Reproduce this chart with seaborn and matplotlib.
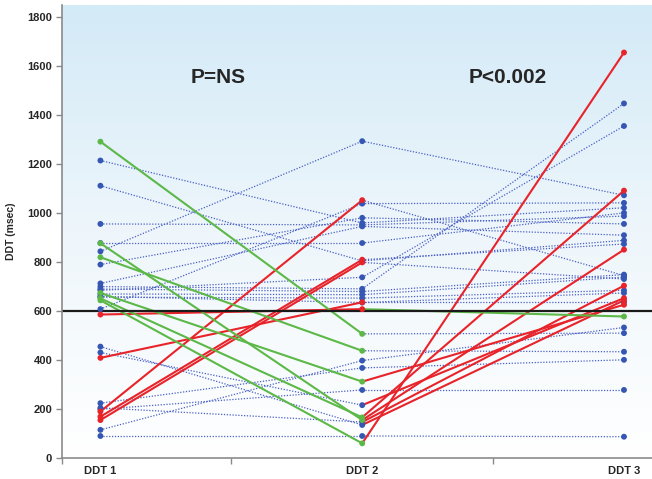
# DDT per subject at three visits, segments coloured by crossing the 600 msec cut-off
import numpy as np
import pandas as pd
import matplotlib
matplotlib.use("Agg")
import matplotlib.pyplot as plt
import seaborn as sns
from matplotlib.colors import LinearSegmentedColormap

# ==========================================
# DATA
# ==========================================
visits = ["DDT 1", "DDT 2", "DDT 3"]
ddt1 = [1292, 1215, 1112, 956, 877, 878, 844, 820, 790, 713, 700, 690, 685, 674, 670, 660,
        657, 652, 644, 608, 586, 455, 431, 409, 224, 205, 199, 190, 169, 155, 115, 90]
ddt2 = [507, 960, 805, 952, 155, 878, 1294, 438, 981, 946, 691, 680, 738, 312, 667, 635,
        653, 166, 60, 1039, 608, 135, 216, 636, 368, 147, 278, 1053, 810, 799, 398, 90]
ddt3 = [510, 1022, 889, 988, 851, 1001, 1073, 434, 956, 910, 1448, 749, 1356, 626, 739, 674,
        685, 1092, 1656, 1042, 578, 644, 653, 636, 401, 704, 278, 745, 874, 731, 533, 87]
cutoff = 600
p_labels = ["P=NS", "P<0.002"]

# ==========================================
# BUILD LONG TABLES
# ==========================================
def kind(a, b):
    if a < cutoff < b:
        return "up"
    if a > cutoff > b:
        return "down"
    return "flat"

values = np.array([ddt1, ddt2, ddt3]).T
seg_rows = []
pt_rows = []
for i, v in enumerate(values):
    k1 = kind(v[0], v[1])
    k2 = kind(v[1], v[2])
    for seg, k in ((0, k1), (1, k2)):
        for x in (seg, seg + 1):
            seg_rows.append({"unit": f"{i}-{seg}", "x": x, "value": v[x], "kind": k})
    # marker takes the colour of the segment leading into it
    for x, k in ((0, k1), (1, k1), (2, k2)):
        pt_rows.append({"x": x, "value": v[x], "kind": k})

segs = pd.DataFrame(seg_rows)
pts = pd.DataFrame(pt_rows)
pts["order"] = pts["kind"].map({"flat": 0, "up": 1, "down": 1})
pts = pts.sort_values("order")

palette = {"flat": "#4a60c4", "up": "#e8232a", "down": "#5cb847"}
marker_pal = {"flat": "#3656b4", "up": "#e8232a", "down": "#5cb847"}

# ==========================================
# PLOT
# ==========================================
sns.set_theme(style="ticks")
plt.rcParams["font.family"] = ["Liberation Sans", "DejaVu Sans"]

fig = plt.figure(figsize=(6.52, 4.79), dpi=100)
ax = fig.add_axes([0.095, 0.0438, 0.905, 0.9457])

# light blue gradient background
grad = np.linspace(0, 1, 256).reshape(-1, 1)
cmap = LinearSegmentedColormap.from_list("bg", ["#ffffff", "#eef6fb", "#d3eaf7"])
ax.imshow(grad, extent=[0, 1, 0, 1], transform=ax.transAxes, origin="lower",
          aspect="auto", cmap=cmap, zorder=0)

sns.lineplot(data=segs, x="x", y="value", units="unit", estimator=None, sort=False,
             hue="kind", hue_order=["flat", "up", "down"], palette=palette,
             size="kind", sizes={"flat": 0.9, "up": 1.5, "down": 1.5},
             style="kind", dashes={"flat": (1, 1.3), "up": "", "down": ""},
             legend=False, ax=ax)

ax.axhline(cutoff, color="#1a1a1a", lw=1.6, zorder=2.1)

sns.scatterplot(data=pts, x="x", y="value", hue="kind", palette=marker_pal,
                s=18, linewidth=0, legend=False, ax=ax, zorder=3)

ax.text(0.45, 1555, p_labels[0], ha="center", va="center", fontsize=15, fontweight="bold")
ax.text(1.557, 1555, p_labels[1], ha="center", va="center", fontsize=15, fontweight="bold")

# axes
ax.set_xlim(-0.147, 2.107)
ax.set_ylim(0, 1850)
ax.set_yticks(range(0, 1801, 200))
ax.set_yticklabels([str(t) for t in range(0, 1801, 200)], fontsize=8, fontweight="bold")
ax.set_xticks([-0.147, 0.5, 1.5])
ax.set_xticklabels([])
ax.set_xticks([0, 1, 2], minor=True)
ax.set_xticklabels(visits, minor=True, fontsize=8, fontweight="bold")
ax.tick_params(axis="x", which="minor", length=0, pad=6)
ax.tick_params(axis="x", which="major", length=4, color="#8a8a8a", width=1)
ax.tick_params(axis="y", length=4, color="#8a8a8a", width=1, pad=3)
ax.set_xlabel("")
ax.set_ylabel("DDT (msec)", fontsize=7.5, fontweight="bold", labelpad=8)

for side in ("top", "right"):
    ax.spines[side].set_visible(False)
for side in ("left", "bottom"):
    ax.spines[side].set_color("#8a8a8a")
    ax.spines[side].set_linewidth(1.2)

fig.savefig("out.png", dpi=100)
